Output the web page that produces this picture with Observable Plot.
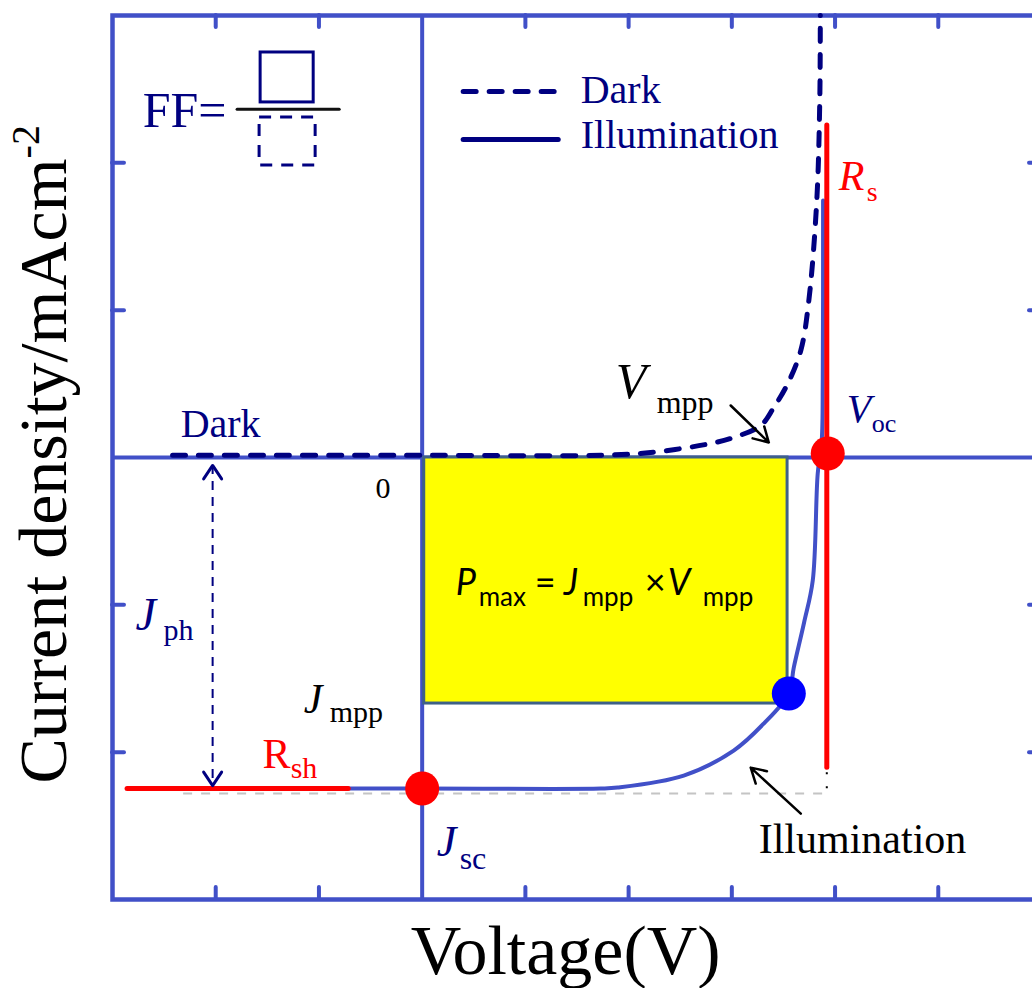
<!DOCTYPE html>
<html><head><meta charset="utf-8">
<script src="https://cdn.jsdelivr.net/npm/d3@7"></script>
<script src="https://cdn.jsdelivr.net/npm/@observablehq/plot@0.6"></script>
<style>
html,body{margin:0;padding:0;background:#fff;overflow:hidden}
#chart svg{max-width:none !important;width:1048px !important;height:988px !important;display:block}
</style>
</head><body><div id="chart"></div>
<script>
// ---- data (schematic J–V curve, data units: V on x, J on y) ----
const xTicks = [-2, -1, 1, 2, 3, 4, 5];
const yTicks = [-2, -1, 1, 2];

const darkV = [-2.418, 0, 1.73, 2.214, 2.796, 3.018, 3.280, 3.406, 3.542, 3.668, 3.746, 3.823, 3.852, 3.857];
const darkJ = [0.015, 0.015, 0.015, 0.034, 0.095, 0.136, 0.217, 0.339, 0.502, 0.726, 1.066, 1.745, 2.424, 3.0];

const illumV = [-2.854, 0, 1.73, 1.894, 2.534, 3.018, 3.309, 3.551, 3.600, 3.700, 3.784, 3.832, 3.871, 3.881, 3.884];
const illumJ = [-2.247, -2.247, -2.247, -2.240, -2.159, -1.989, -1.806, -1.602, -1.426, -1.120, -0.835, -0.109, 0.115, 0.523, 1.745];

const pointNames = ["Jsc", "Voc", "mpp"];
const pointV = [0, 3.929, 3.552];
const pointJ = [-2.247, 0.027, -1.602];

const Vmpp = 3.54, Jmpp = -1.67;     // Pmax rectangle
const Rsh = {V1: -2.854, V2: -0.712, J: -2.247};
const Rs = {V: 3.920, J1: -2.105, J2: 2.254};
const JphArrow = {V: -2.03, J1: -0.054, J2: -2.227};

// ---- styles ----
const blue = "#4150c8", navy = "#000080", red = "#ff0000";
const serif = "'Liberation Serif', 'Times New Roman', serif";
const sans = "Lato, 'Liberation Sans', sans-serif";
const tickX = 0.116, tickY = 0.082;

const labels = [
  {t: "FF=", x: -2.708, y: 2.240, s: 50, c: navy},
  {t: "Dark", x: 1.536, y: 2.403, s: 40, c: navy},
  {t: "Illumination", x: 1.536, y: 2.098, s: 40, c: navy},
  {t: "Dark", x: -2.340, y: 0.136, s: 40, c: navy},
  {t: "0", x: -0.451, y: -0.278, s: 30, c: "#000"},
  {t: "J", x: -2.776, y: -1.174, s: 46, c: navy, it: true},
  {t: "ph", x: -2.505, y: -1.242, s: 30, c: navy},
  {t: "J", x: -1.148, y: -1.731, s: 42, c: "#000", it: true},
  {t: "mpp", x: -0.896, y: -1.792, s: 30, c: "#000"},
  {t: "J", x: 0.141, y: -2.702, s: 44, c: navy, it: true},
  {t: "sc", x: 0.363, y: -2.790, s: 32, c: navy},
  {t: "R", x: -1.546, y: -2.105, s: 42, c: red},
  {t: "sh", x: -1.274, y: -2.172, s: 30, c: red},
  {t: "V", x: 1.875, y: 0.401, s: 50, c: "#000", it: true},
  {t: "mpp", x: 2.272, y: 0.305, s: 32, c: "#000"},
  {t: "V", x: 4.113, y: 0.238, s: 40, c: navy, it: true},
  {t: "oc", x: 4.356, y: 0.170, s: 26, c: navy},
  {t: "R", x: 4.035, y: 1.813, s: 42, c: red, it: true},
  {t: "s", x: 4.307, y: 1.738, s: 28, c: red},
  {t: "Illumination", x: 3.260, y: -2.682, s: 42, c: "#000"},
  {t: "P", x: 0.325, y: -0.930, s: 36, c: "#000", it: true, f: sans},
  {t: "max", x: 0.548, y: -1.005, s: 26, c: "#000", f: sans},
  {t: "=", x: 1.090, y: -0.930, s: 36, c: "#000", f: sans},
  {t: "J", x: 1.371, y: -0.930, s: 36, c: "#000", it: true, f: sans},
  {t: "mpp", x: 1.555, y: -1.005, s: 26, c: "#000", f: sans},
  {t: "×", x: 2.156, y: -0.930, s: 36, c: "#000", f: sans},
  {t: "V", x: 2.379, y: -0.930, s: 36, c: "#000", it: true, f: sans},
  {t: "mpp", x: 2.718, y: -1.005, s: 26, c: "#000", f: sans},
  {t: "Voltage(V)", x: 1.391, y: -3.503, s: 70, c: "#000", a: "middle"},
  {t: "Current density/mAcm", x: -3.454, y: -2.213, s: 68, c: "#000", r: -90},
  {t: "-2", x: -3.716, y: 2.03, s: 40, c: "#000", r: -90}
];

const dark = darkV.map((v, i) => ({V: v, J: darkJ[i]}));
const illum = illumV.map((v, i) => ({V: v, J: illumJ[i]}));
const pts = pointNames.map((n, i) => ({name: n, V: pointV[i], J: pointJ[i]}));

// FF glyph (fraction of two boxes) and legend samples, in data units
const ffSolid = [{x1: -1.565, x2: -1.051, y1: 2.410, y2: 2.749}];
const ffDashed = [{x1: -1.575, x2: -1.032, y1: 1.982, y2: 2.308}];
const ffBar = [{x1: -1.788, x2: -0.799, y: 2.363}];
const legendDark = [{x1: 0.402, x2: 1.323, y: 2.485}];
const legendIllum = [{x1: 0.402, x2: 1.323, y: 2.159}];

const chevron = {
  draw(ctx, l, r) {
    ctx.moveTo(-r, -l + 1.5 * r);
    ctx.lineTo(0, -l);
    ctx.lineTo(r, -l + 1.5 * r);
  }
};

const marks = [
  Plot.ruleX([0], {stroke: blue, strokeWidth: 4}),
  Plot.ruleY([0], {stroke: blue, strokeWidth: 4}),
  Plot.ruleX(xTicks, {x: d => d, y1: -3, y2: -3 + tickY, stroke: blue, strokeWidth: 4, strokeLinecap: "round"}),
  Plot.ruleX(xTicks, {x: d => d, y1: 3, y2: 3 - tickY, stroke: blue, strokeWidth: 4, strokeLinecap: "round"}),
  Plot.ruleY(yTicks, {y: d => d, x1: -3, x2: -3 + tickX, stroke: blue, strokeWidth: 4, strokeLinecap: "round"}),
  Plot.ruleY(yTicks, {y: d => d, x1: 6, x2: 6 - tickX, stroke: blue, strokeWidth: 4, strokeLinecap: "round"}),
  Plot.frame({stroke: blue, strokeWidth: 4.5}),
  // Pmax rectangle
  Plot.rect([{x1: 0.02, x2: Vmpp, y1: Jmpp, y2: 0}], {x1: "x1", x2: "x2", y1: "y1", y2: "y2", fill: "#ffff00", stroke: "#3f6187", strokeWidth: 3}),
  // gray reference line and tiny black marks
  Plot.ruleY([{y: -2.281}], {y: "y", x1: -2.311, x2: 3.92, stroke: "#c4c4c4", strokeWidth: 2, strokeDasharray: "9,9"}),
  Plot.ruleX([{x: 3.92}], {x: "x", y1: -2.14, y2: -2.29, stroke: "#000", strokeWidth: 2, strokeDasharray: "2,12"}),
  // curves
  Plot.line(dark, {x: "V", y: "J", curve: "catmull-rom", stroke: navy, strokeWidth: 5, strokeDasharray: "13,13", strokeLinecap: "round"}),
  Plot.line(illum, {x: "V", y: "J", curve: "catmull-rom", stroke: blue, strokeWidth: 4}),
  // resistance slopes
  Plot.ruleY([Rsh], {y: "J", x1: "V1", x2: "V2", stroke: red, strokeWidth: 5, strokeLinecap: "round"}),
  Plot.ruleX([Rs], {x: "V", y1: "J1", y2: "J2", stroke: red, strokeWidth: 5, strokeLinecap: "round"}),
  // key points
  Plot.dot(pts, {x: "V", y: "J", r: 17, fill: d => d.name === "mpp" ? "#0000ff" : red, stroke: "none"}),
  // Jph double arrow
  Plot.ruleX([JphArrow], {x: "V", y1: "J1", y2: "J2", stroke: navy, strokeWidth: 2, strokeDasharray: "9,7"}),
  Plot.vector([JphArrow], {x: "V", y: "J1", length: 20, r: 9, rotate: 0, anchor: "end", shape: chevron, stroke: navy, strokeWidth: 3, fill: "none"}),
  Plot.vector([JphArrow], {x: "V", y: "J2", length: 20, r: 9, rotate: 180, anchor: "end", shape: chevron, stroke: navy, strokeWidth: 3, fill: "none"}),
  // pointer arrows
  Plot.arrow([{x1: 2.989, y1: 0.353, x2: 3.358, y2: 0.102}], {x1: "x1", y1: "y1", x2: "x2", y2: "y2", stroke: "#000", strokeWidth: 2.5, headLength: 10}),
  Plot.arrow([{x1: 3.668, y1: -2.417, x2: 3.183, y2: -2.105}], {x1: "x1", y1: "y1", x2: "x2", y2: "y2", stroke: "#000", strokeWidth: 2.5, headLength: 10}),
  // FF glyph
  Plot.rect(ffSolid, {x1: "x1", x2: "x2", y1: "y1", y2: "y2", fill: "none", stroke: navy, strokeWidth: 3}),
  Plot.rect(ffDashed, {x1: "x1", x2: "x2", y1: "y1", y2: "y2", fill: "none", stroke: navy, strokeWidth: 3, strokeDasharray: "12,9"}),
  Plot.ruleY(ffBar, {y: "y", x1: "x1", x2: "x2", stroke: "#111", strokeWidth: 3, strokeLinecap: "round"}),
  // legend samples
  Plot.ruleY(legendDark, {y: "y", x1: "x1", x2: "x2", stroke: navy, strokeWidth: 5, strokeDasharray: "13,13", strokeLinecap: "round"}),
  Plot.ruleY(legendIllum, {y: "y", x1: "x1", x2: "x2", stroke: navy, strokeWidth: 5, strokeLinecap: "round"}),
  // texts
  ...labels.map(l => Plot.text([l], {
    x: "x", y: "y", text: "t", fontSize: l.s, fill: l.c,
    fontStyle: l.it ? "italic" : "normal", fontFamily: l.f || serif,
    textAnchor: l.a || "start", lineAnchor: "bottom", rotate: l.r || 0
  }))
];

const chart = Plot.plot({
  width: 1048, height: 988,
  marginLeft: 112, marginRight: 7, marginTop: 15, marginBottom: 89,
  x: {domain: [-3, 6], axis: null},
  y: {domain: [-3, 3], axis: null},
  style: {background: "#fff", fontFamily: serif, overflow: "visible", maxWidth: "none"},
  marks
});
document.getElementById("chart").appendChild(chart);
</script>
</body></html>
